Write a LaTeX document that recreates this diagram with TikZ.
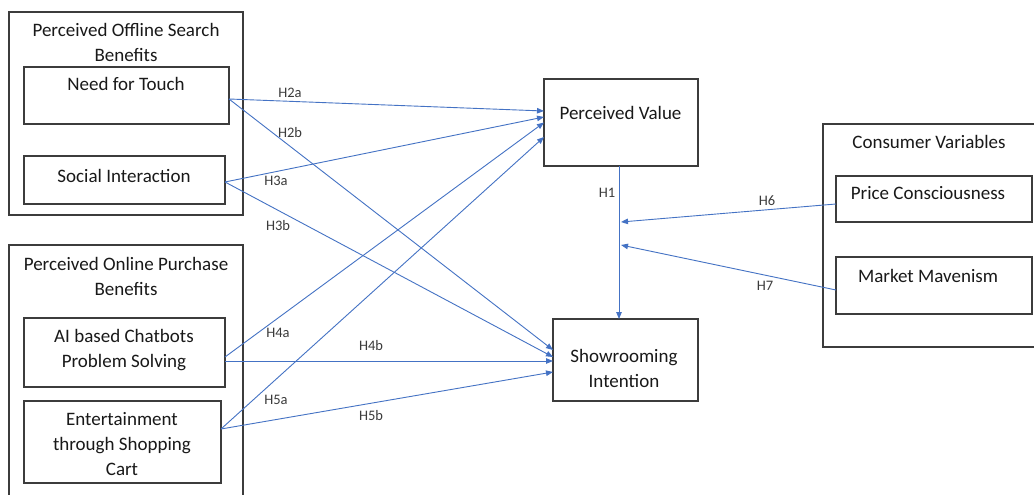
\documentclass[tikz,border=0pt]{standalone}
\usepackage{fontspec}
\setmainfont{Carlito}
\usetikzlibrary{arrows.meta}
\definecolor{linkblue}{RGB}{68,114,196}
\definecolor{boxline}{RGB}{60,60,60}
\definecolor{ink}{RGB}{25,25,25}

\begin{document}
\begin{tikzpicture}[x=1pt,y=-1pt,
  box/.style={draw=boxline, line width=1.2pt, inner sep=0pt, outer sep=0pt, anchor=north west},
  txt/.style={font=\fontsize{19}{25}\selectfont, text=ink, inner sep=0pt, align=center, anchor=base},
  hyp/.style={font=\fontsize{14.5}{17}\selectfont, text=ink!85, inner sep=0pt},
  link/.style={draw=linkblue, line width=0.9pt, -{Triangle[length=7pt,width=5.5pt]}},
]
\clip (0,0) rectangle (1034,495);
\fill[white] (0,0) rectangle (1034,495);

% construct groups
\node[box, minimum width=234pt, minimum height=203pt] (offline) at (9,12) {};
\node[box, minimum width=234pt, minimum height=270pt] (online) at (9,245) {};
\node[box, minimum width=230pt, minimum height=223pt] (consumer) at (823,124) {};

% constructs
\node[box, minimum width=205pt, minimum height=57pt] (touch) at (24,67) {};
\node[box, minimum width=201pt, minimum height=48pt] (social) at (24,156) {};
\node[box, minimum width=201pt, minimum height=69pt] (chat) at (24,318) {};
\node[box, minimum width=197pt, minimum height=82pt] (cart) at (24,401) {};
\node[box, minimum width=154pt, minimum height=87pt] (pv) at (544,79) {};
\node[box, minimum width=145pt, minimum height=82pt] (show) at (553,319) {};
\node[box, minimum width=196pt, minimum height=46pt] (price) at (836,176) {};
\node[box, minimum width=196pt, minimum height=57pt] (maven) at (836,257) {};

% texts (multi-line nodes sit on the baseline of their last line)
\node[txt] (offline-t) at (126,62) {Perceived Offline Search\\Benefits};
\node[txt] (touch-t) at (126,91) {Need for Touch};
\node[txt] (social-t) at (124,182) {Social Interaction};
\node[txt] (online-t) at (126,295) {Perceived Online Purchase\\Benefits};
\node[txt] (chat-t) at (124,367) {AI based Chatbots\\Problem Solving};
\node[txt] (cart-t) at (122,475) {Entertainment\\through Shopping\\Cart};
\node[txt] (pv-t) at (620.5,119) {Perceived Value};
\node[txt] (show-t) at (624,387) {Showrooming\\Intention};
\node[txt] (consumer-t) at (929,148) {Consumer Variables};
\node[txt] (price-t) at (928,199) {Price Consciousness};
\node[txt] (maven-t) at (928,282) {Market Mavenism};

% paths into perceived value
\draw[link] ([yshift=-3.5pt]touch.east) -- ([yshift=11.5pt]pv.west);
\draw[link] ([yshift=-2pt]social.east) -- ([yshift=5.5pt]pv.west);
\draw[link] ([yshift=-4.5pt]chat.east) -- (pv.west);
\draw[link] ([yshift=13pt]cart.east) -- ([yshift=-14.5pt]pv.west);

% paths into showrooming intention
\draw[link] ([yshift=-3.5pt]touch.east) -- ([yshift=10pt]show.west);
\draw[link] ([yshift=-2pt]social.east) -- ([yshift=3pt]show.west);
\draw[link] ([yshift=-8.5pt]chat.east) -- ([yshift=-1pt]show.west);
\draw[link] ([yshift=13pt]cart.east) -- ([yshift=-12pt]show.west);

% H1 and moderators
\coordinate (h1top) at ([xshift=-2pt]pv.south);
\draw[link] (h1top) -- (h1top |- show.north);
\coordinate (m6) at (621,222);
\coordinate (m7) at (621,245);
\draw[link] ([yshift=-5pt]price.west) -- (m6);
\draw[link] ([yshift=-4.5pt]maven.west) -- (m7);

% hypothesis labels
\node[hyp] (h2a) at (290,93) {H2a};
\node[hyp] (h2b) at (290,133) {H2b};
\node[hyp] (h3a) at (276,181) {H3a};
\node[hyp] (h3b) at (278,226) {H3b};
\node[hyp] (h4a) at (278,333) {H4a};
\node[hyp] (h4b) at (371,346) {H4b};
\node[hyp] (h5a) at (276,400) {H5a};
\node[hyp] (h5b) at (371,416) {H5b};
\node[hyp] (h1) at (607,193) {H1};
\node[hyp] (h6) at (767,201) {H6};
\node[hyp] (h7) at (765,286) {H7};
\end{tikzpicture}
\end{document}
